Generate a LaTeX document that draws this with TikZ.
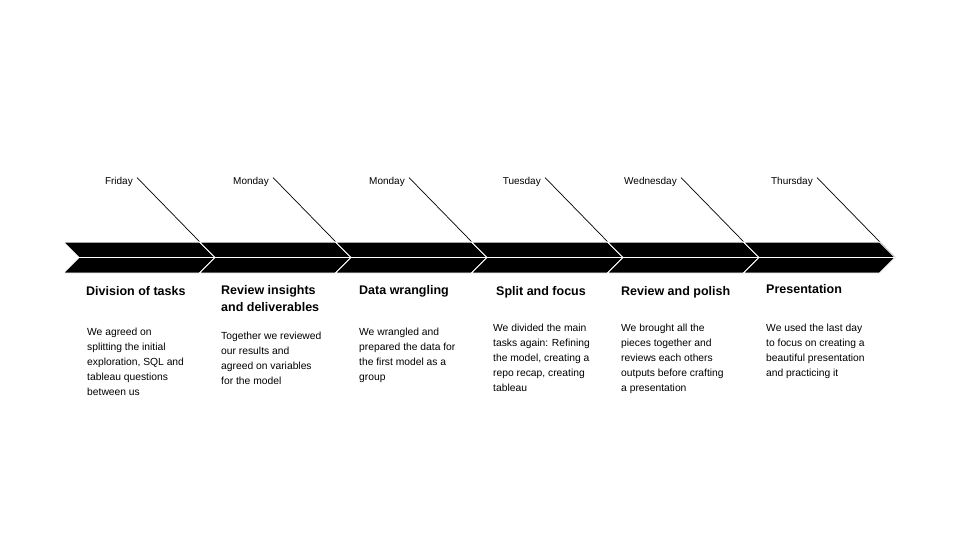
\documentclass[tikz,border=0pt]{standalone}
\usepackage{fontspec}
\setmainfont{Liberation Sans}
\usetikzlibrary{positioning}

\begin{document}
\begin{tikzpicture}[x=1pt, y=-1pt,
  day/.style={font=\fontsize{10}{12}\selectfont, inner sep=0pt, anchor=base east},
  title/.style={font=\bfseries\fontsize{12.5}{17}\selectfont, inner sep=0pt,
                anchor=base west, align=left},
  body/.style={font=\fontsize{10.3}{15}\selectfont, inner sep=0pt,
               anchor=base west, align=left},
  chev/.style={fill=black, draw=white, line width=1pt, line join=miter},
  tick/.style={draw=black, line width=0.7pt}
]
  \useasboundingbox (0,0) rectangle (960,540);

  % tips of the chevrons
  \coordinate (p1) at (215,257.5);
  \coordinate (p2) at (351,257.5);
  \coordinate (p3) at (487,257.5);
  \coordinate (p4) at (623,257.5);
  \coordinate (p5) at (759,257.5);
  \coordinate (p6) at (895,257.5);

  % day labels and their ticks
  \node[day] (d1) at (133,185) {Friday};
  \node[day] (d2) at (269,185) {Monday};
  \node[day] (d3) at (405,185) {Monday};
  \node[day] (d4) at (541,185) {Tuesday};
  \node[day] (d5) at (677,185) {Wednesday};
  \node[day] (d6) at (813,185) {Thursday};
  \draw[tick] ([xshift=4pt]d1.north east) -- (p1);
  \draw[tick] ([xshift=4pt]d2.north east) -- (p2);
  \draw[tick] ([xshift=4pt]d3.north east) -- (p3);
  \draw[tick] ([xshift=4pt]d4.north east) -- (p4);
  \draw[tick] ([xshift=4pt]d5.north east) -- (p5);
  \draw[tick] ([xshift=4pt]d6.north east) -- (p6);

  % the band
  \path[chev] (63.5,242) -- (199.5,242) -- (p1) -- (199.5,273) -- (63.5,273) -- (79,257.5) -- cycle;
  \path[chev] (199.5,242) -- (335.5,242) -- (p2) -- (335.5,273) -- (199.5,273) -- (p1) -- cycle;
  \path[chev] (335.5,242) -- (471.5,242) -- (p3) -- (471.5,273) -- (335.5,273) -- (p2) -- cycle;
  \path[chev] (471.5,242) -- (607.5,242) -- (p4) -- (607.5,273) -- (471.5,273) -- (p3) -- cycle;
  \path[chev] (607.5,242) -- (743.5,242) -- (p5) -- (743.5,273) -- (607.5,273) -- (p4) -- cycle;
  \path[chev] (743.5,242) -- (879.5,242) -- (p6) -- (879.5,273) -- (743.5,273) -- (p5) -- cycle;
  \draw[white, line width=0.8pt] (79,257.5) -- (p6);

  % steps (multi-line nodes sit on their last baseline)
  \node[title] (t1) at (86,295) {Division of tasks};
  \node[title] (t2) at (221,311) {Review insights\\and deliverables};
  \node[title] (t3) at (359,294) {Data wrangling};
  \node[title] (t4) at (496,295) {Split and focus};
  \node[title] (t5) at (621,295) {Review and polish};
  \node[title] (t6) at (766,293) {Presentation};

  \node[body] (b1) at (87,395) {We agreed on\\splitting the initial\\exploration, SQL and\\tableau questions\\between us};
  \node[body] (b2) at (221,384) {Together we reviewed\\our results and\\agreed on variables\\for the model};
  \node[body] (b3) at (359,380) {We wrangled and\\prepared the data for\\the first model as a\\group};
  \node[body] (b4) at (493,391) {We divided the main\\tasks again: Refining\\the model, creating a\\repo recap, creating\\tableau};
  \node[body] (b5) at (621,391) {We brought all the\\pieces together and\\reviews each others\\outputs before crafting\\a presentation};
  \node[body] (b6) at (766,376) {We used the last day\\to focus on creating a\\beautiful presentation\\and practicing it};
\end{tikzpicture}
\end{document}
